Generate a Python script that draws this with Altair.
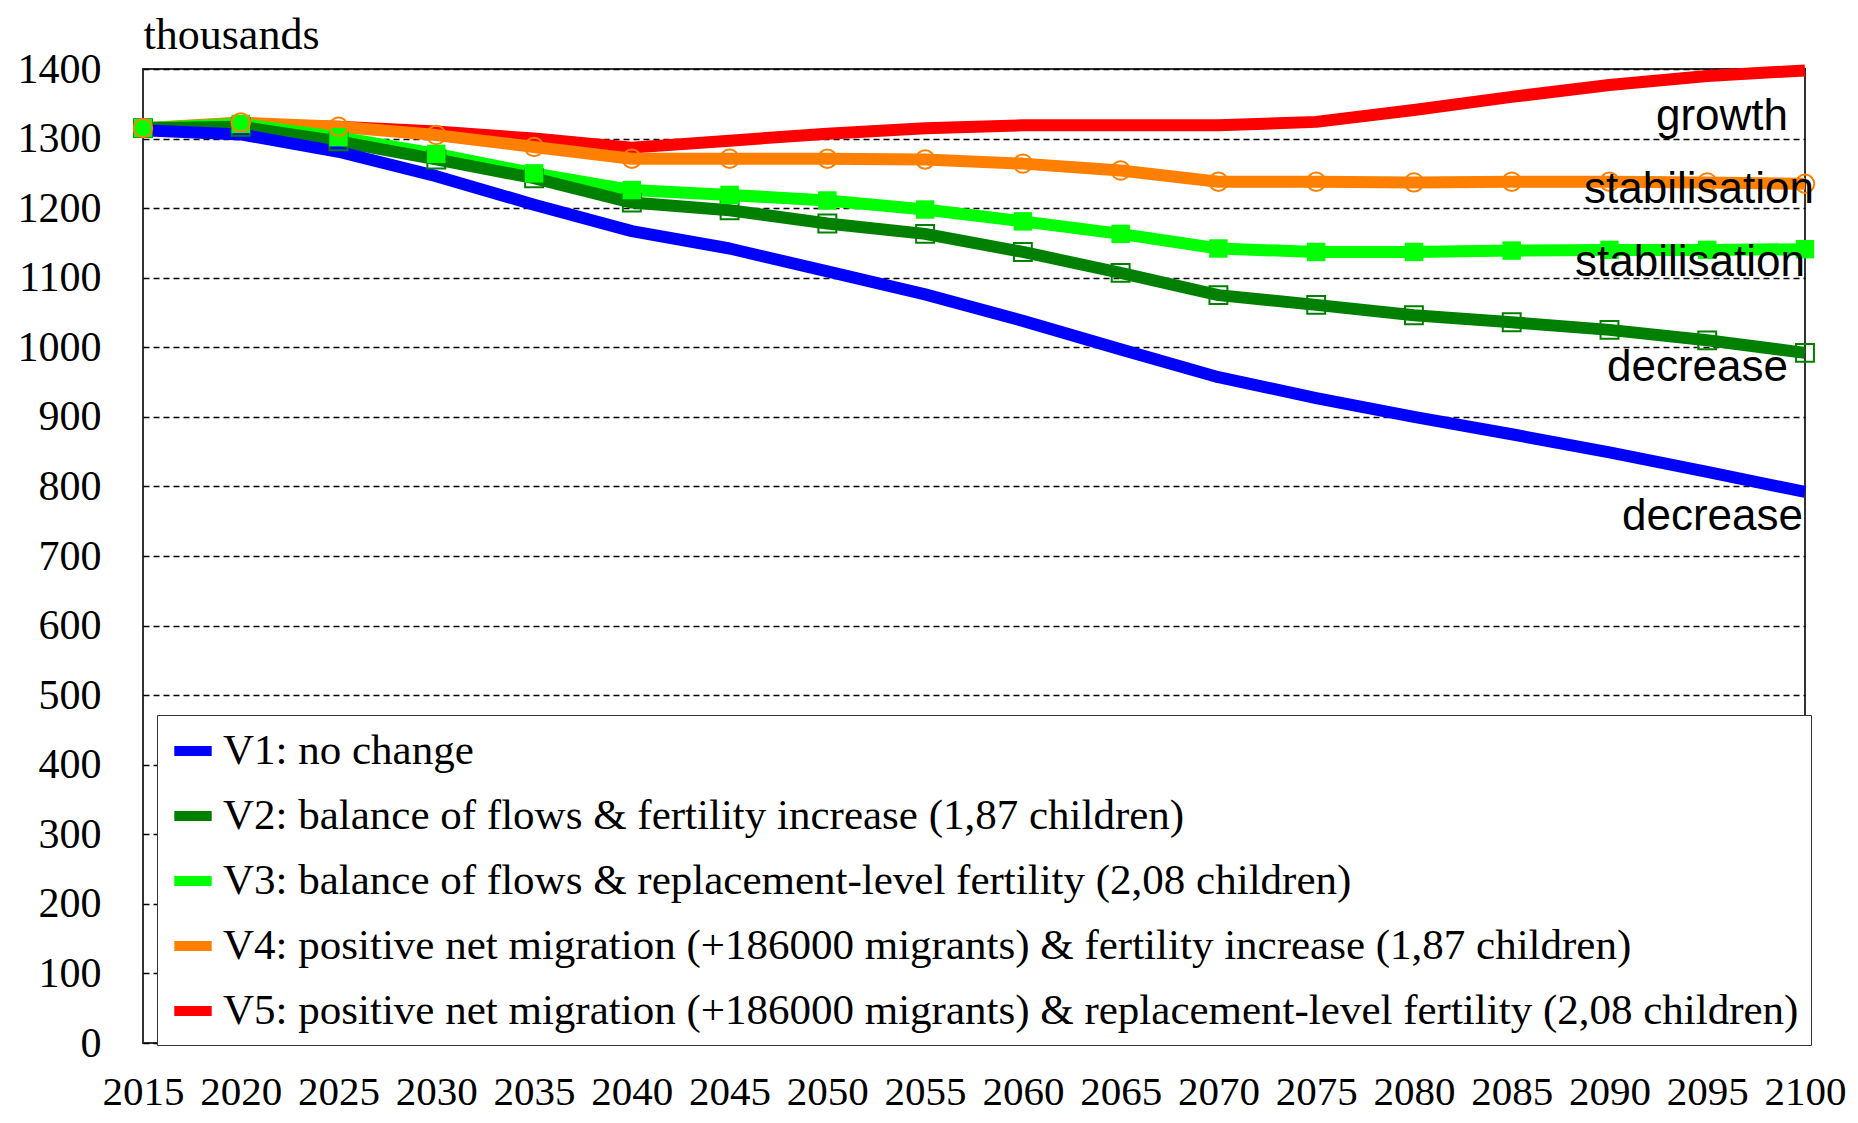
import altair as alt
import pandas as pd

years = [2015, 2020, 2025, 2030, 2035, 2040, 2045, 2050, 2055, 2060,
         2065, 2070, 2075, 2080, 2085, 2090, 2095, 2100]

series_names = [
    "V1: no change",
    "V2: balance of flows & fertility increase (1,87 children)",
    "V3: balance of flows & replacement-level fertility (2,08 children)",
    "V4: positive net migration (+186000 migrants) & fertility increase (1,87 children)",
    "V5: positive net migration (+186000 migrants) & replacement-level fertility (2,08 children)",
]
series_colors = ["#0000FF", "#008000", "#00FF00", "#FF8000", "#FF0000"]

v1 = [1312, 1306, 1281, 1246, 1205, 1167, 1142, 1109, 1076, 1038,
      997, 957, 927, 900, 875, 849, 821, 792]
v2 = [1315, 1317, 1296, 1270, 1243, 1208, 1197, 1178, 1163, 1137,
      1107, 1075, 1061, 1046, 1036, 1025, 1010, 992]
v3 = [1315, 1321, 1302, 1278, 1250, 1226, 1219, 1211, 1198, 1181,
      1163, 1142, 1137, 1137, 1139, 1140, 1140, 1141]
v4 = [1315, 1323, 1317, 1305, 1288, 1271, 1271, 1271, 1270, 1264,
      1254, 1238, 1238, 1237, 1238, 1238, 1237, 1235]
v5 = [1315, 1320, 1317, 1310, 1300, 1287, 1297, 1307, 1315, 1319,
      1319, 1319, 1324, 1341, 1360, 1377, 1390, 1398]
values = [v1, v2, v3, v4, v5]

y_ticks = list(range(0, 1401, 100))

annot_labels = ["growth", "stabilisation", "stabilisation", "decrease", "decrease"]
annot_values = [1313, 1208, 1103, 951, 738]

# ---- build table ----
rows = []
for name, vals in zip(series_names, values):
    for yr, v in zip(years, vals):
        rows.append({"year": yr, "value": v, "series": name})
df = pd.DataFrame(rows)

SERIF = "Liberation Serif"
SANS = "Liberation Sans"

x_enc = alt.X(
    "year:Q",
    scale=alt.Scale(domain=[2015, 2100], nice=False, zero=False),
    axis=alt.Axis(values=years, format="d", title=None, grid=False, ticks=False,
                  domain=False, labelFont=SERIF, labelFontSize=41, labelColor="#000",
                  labelPadding=29, labelFlush=False, labelOverlap=False),
)
y_enc = alt.Y(
    "value:Q",
    scale=alt.Scale(domain=[0, 1400], nice=False),
    axis=alt.Axis(values=y_ticks, format="d", title="thousands", grid=True,
                  gridDash=[6, 4], gridColor="#000", gridWidth=1.5, gridOpacity=1,
                  ticks=False, domain=False, labelFont=SERIF, labelFontSize=42,
                  labelColor="#000", labelPadding=42, titleAngle=0, titleAlign="left",
                  titleBaseline="alphabetic", titleX=0, titleY=-21,
                  titleFont=SERIF, titleFontSize=44, titleFontWeight="normal",
                  titleColor="#000"),
)
color_enc = alt.Color(
    "series:N",
    scale=alt.Scale(domain=series_names, range=series_colors),
    legend=alt.Legend(title=None, orient="none", legendX=14, legendY=646,
                      symbolType="stroke", symbolStrokeWidth=10, symbolSize=1400,
                      labelFont=SERIF, labelFontSize=43, labelColor="#000",
                      labelLimit=0, labelOffset=6, rowPadding=19, padding=12,
                      strokeColor="#333", fillColor="#ffffff"),
)

layers = []
# draw order: V5 at the bottom, V1 on top
for name in reversed(series_names):
    layers.append(
        alt.Chart(df[df.series == name]).mark_line(strokeWidth=12, strokeJoin="round")
        .encode(x=x_enc, y=y_enc, color=color_enc)
    )

# markers
layers.append(
    alt.Chart(df[df.series == series_names[1]]).mark_point(
        shape="square", filled=False, size=320, strokeWidth=2, opacity=1)
    .encode(x=x_enc, y=y_enc, color=alt.value(series_colors[1]))
)
layers.append(
    alt.Chart(df[df.series == series_names[2]]).mark_point(
        shape="square", filled=True, size=340, opacity=1)
    .encode(x=x_enc, y=y_enc, color=alt.value(series_colors[2]))
)
layers.append(
    alt.Chart(df[df.series == series_names[3]]).mark_point(
        shape="circle", filled=False, size=340, strokeWidth=2, opacity=1)
    .encode(x=x_enc, y=y_enc, color=alt.value(series_colors[3]))
)

# annotations
annot_dx = [-17, 9, 0, -17, -2]
for lab, val, dx in zip(annot_labels, annot_values, annot_dx):
    layers.append(
        alt.Chart(pd.DataFrame({"label": [lab], "value": [val]}))
        .mark_text(align="right", baseline="alphabetic", font=SANS, fontSize=44,
                   color="#000", dx=dx)
        .encode(x=alt.datum(2100), y=alt.Y("value:Q"), text="label:N")
    )

chart = (
    alt.layer(*layers)
    .properties(
        width=1662, height=974,
        autosize=alt.AutoSizeParams(type="none"),
        padding={"left": 135, "top": 61, "right": 45, "bottom": 71},
        background="#ffffff",
    )
    .configure_view(stroke="#333", strokeWidth=2)
)

chart.save("out.html", embed_options={"renderer": "svg", "actions": False})
